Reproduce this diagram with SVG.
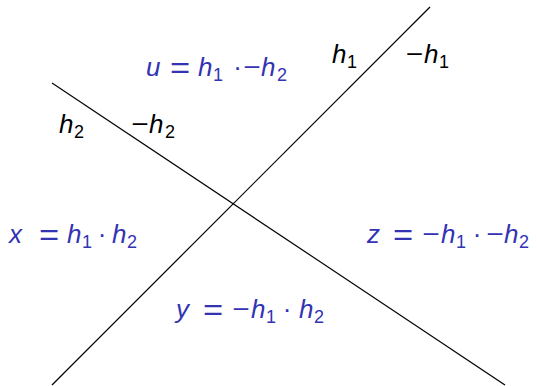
<svg xmlns="http://www.w3.org/2000/svg" width="537" height="386" viewBox="0 0 537 386">
<style>
text{font-family:"Liberation Sans","DejaVu Sans",sans-serif;font-size:26px}
.b{fill:#3333b3}
.k{fill:#000}
.i{font-style:italic}
.s{font-size:18px}
.eq{font-size:30px;text-anchor:middle}
.mn{text-anchor:middle}
.dt{text-anchor:middle}
line{stroke:#000;stroke-width:1.2}
</style>
<rect width="537" height="386" fill="#fff"/>
<g id="connectors">
<line x1="52" y1="385" x2="430" y2="7"/>
<line x1="52" y1="83" x2="505" y2="385"/>
</g>
<g id="label-h1" class="k"><text><tspan class="i" x="332" y="63">h</tspan><tspan class="s" x="347" y="68">1</tspan></text></g>
<g id="label-neg-h1" class="k"><text class="mn" transform="translate(414.5,63) scale(1.15,1)">−</text><text><tspan class="i" x="424" y="63">h</tspan><tspan class="s" x="439" y="68">1</tspan></text></g>
<g id="label-h2" class="k"><text><tspan class="i" x="59" y="133">h</tspan><tspan class="s" x="74" y="138">2</tspan></text></g>
<g id="label-neg-h2" class="k"><text class="mn" transform="translate(140,133) scale(1.15,1)">−</text><text><tspan class="i" x="149" y="133">h</tspan><tspan class="s" x="165" y="138">2</tspan></text></g>
<g id="region-u" class="b">
<text><tspan class="i" x="146" y="76">u</tspan><tspan class="i" x="198">h</tspan><tspan class="s" x="213" y="81">1</tspan><tspan class="i" x="261" y="76">h</tspan><tspan class="s" x="277" y="81">2</tspan></text>
<text class="eq" transform="translate(180,77.5) scale(1.15,1)">=</text>
<text class="dt" x="237.5" y="76">·</text>
<text class="mn" transform="translate(252,76) scale(1.15,1)">−</text>
</g>
<g id="region-x" class="b">
<text><tspan class="i" x="9" y="243">x</tspan><tspan class="i" x="67">h</tspan><tspan class="s" x="82" y="248">1</tspan><tspan class="i" x="112" y="243">h</tspan><tspan class="s" x="127" y="248">2</tspan></text>
<text class="eq" transform="translate(49,244.5) scale(1.15,1)">=</text>
<text class="dt" x="102" y="243">·</text>
</g>
<g id="region-z" class="b">
<text><tspan class="i" x="367" y="243">z</tspan><tspan class="i" x="441">h</tspan><tspan class="s" x="456" y="248">1</tspan><tspan class="i" x="504" y="243">h</tspan><tspan class="s" x="519" y="248">2</tspan></text>
<text class="eq" transform="translate(403,244.5) scale(1.15,1)">=</text>
<text class="mn" transform="translate(431,243) scale(1.15,1)">−</text>
<text class="dt" x="477" y="243">·</text>
<text class="mn" transform="translate(495,243) scale(1.15,1)">−</text>
</g>
<g id="region-y" class="b">
<text><tspan class="i" x="176" y="318">y</tspan><tspan class="i" x="251">h</tspan><tspan class="s" x="266" y="323">1</tspan><tspan class="i" x="299" y="318">h</tspan><tspan class="s" x="314" y="323">2</tspan></text>
<text class="eq" transform="translate(213,319.5) scale(1.15,1)">=</text>
<text class="mn" transform="translate(241,318) scale(1.15,1)">−</text>
<text class="dt" x="287" y="318">·</text>
</g>
</svg>
